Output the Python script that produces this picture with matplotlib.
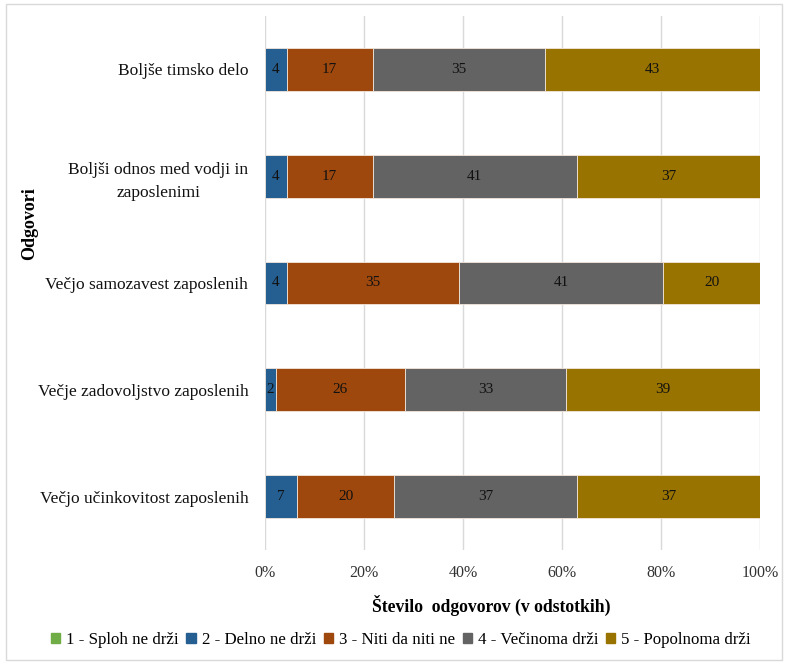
import numpy as np
import matplotlib
matplotlib.use("Agg")
import matplotlib.pyplot as plt
from matplotlib.ticker import PercentFormatter
from matplotlib.patches import Rectangle

plt.rcParams['font.family'] = ['Liberation Serif', 'DejaVu Serif']

# categories, top to bottom as shown
categories = [
    "Boljše timsko delo",
    "Boljši odnos med vodji in\nzaposlenimi",
    "Večjo samozavest zaposlenih",
    "Večje zadovoljstvo zaposlenih",
    "Večjo učinkovitost zaposlenih",
]
series_names = [
    "1 - Sploh ne drži",
    "2 - Delno ne drži",
    "3 - Niti da niti ne",
    "4 - Večinoma drži",
    "5 - Popolnoma drži",
]
# shares in percent per category (same order as categories)
s1 = [0.0, 0.0, 0.0, 0.0, 0.0]
s2 = [4.35, 4.35, 4.35, 2.17, 6.52]
s3 = [17.39, 17.39, 34.78, 26.09, 19.57]
s4 = [34.78, 41.30, 41.30, 32.61, 36.96]
s5 = [43.48, 36.96, 19.57, 39.13, 36.96]
colors = ["#70AD47", "#255E91", "#9E480E", "#636363", "#997300"]

fig = plt.figure(figsize=(7.86, 6.64), dpi=100)
ax = fig.add_axes([265 / 786, 1 - 550 / 664, 495 / 786, 534 / 664])

y = np.arange(len(categories))[::-1]
left = np.zeros(len(categories))
handles = []
for name, vals, col in zip(series_names, [s1, s2, s3, s4, s5], colors):
    vals = np.array(vals)
    bars = ax.barh(y, vals, left=left, height=0.4, color=col,
                   edgecolor="#f2e6dc", linewidth=0.6, label=name, zorder=3)
    for b, v in zip(bars, vals):
        if v > 0:
            ax.text(b.get_x() + b.get_width() / 2, b.get_y() + b.get_height() / 2,
                    f"{v:.0f}", ha="center", va="center", fontsize=11, color="#111111", zorder=4)
    left = left + vals
    handles.append(Rectangle((0, 0), 1, 1, color=col))

ax.set_xlim(0, 100)
ax.set_ylim(-0.5, len(categories) - 0.5)
ax.set_xticks(np.arange(0, 101, 20))
ax.xaxis.set_major_formatter(PercentFormatter(decimals=0))
ax.set_yticks(y)
ax.set_yticklabels(categories, fontsize=12.5, multialignment="center", linespacing=1.6)
ax.tick_params(axis="both", length=0, colors="#333333")
ax.tick_params(axis="x", labelsize=11.5, pad=11)
ax.tick_params(axis="y", pad=12)
for lab in ax.get_yticklabels():
    lab.set_color("#111111")
ax.grid(axis="x", color="#d9d9d9", linewidth=1, zorder=0)
for sp in ax.spines.values():
    sp.set_visible(False)

fig.text(30 / 786, 1 - 224 / 664, "Odgovori", rotation=90, ha="center", va="center",
         fontsize=13, fontweight="bold")
fig.text(491 / 786, 1 - 605 / 664, "Število  odgovorov (v odstotkih)", ha="center", va="center",
         fontsize=12.7, fontweight="bold")

fig.legend(handles, series_names, loc="center", bbox_to_anchor=(401 / 786, 1 - 640 / 664),
           ncol=5, frameon=False, fontsize=12.2, handlelength=0.55, handleheight=0.55,
           handletextpad=0.35, columnspacing=0.45)

fig.patches.append(Rectangle((6 / 786, 4 / 664), 776 / 786, 656 / 664, transform=fig.transFigure,
                             fill=False, edgecolor="#d9d9d9", linewidth=1))

fig.savefig("out.png", dpi=100)
